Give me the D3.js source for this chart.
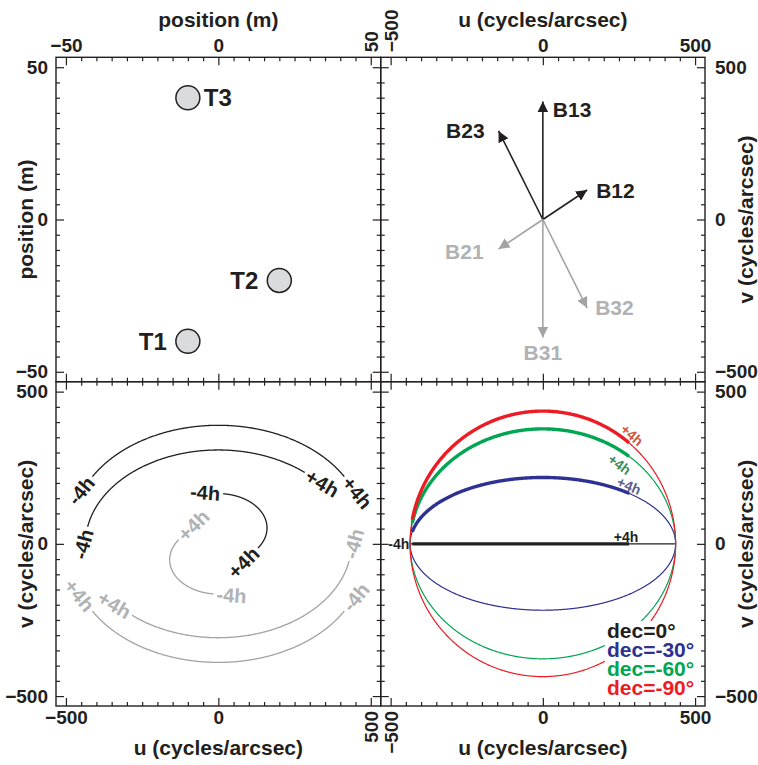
<!DOCTYPE html>
<html>
<head>
<meta charset="utf-8">
<script src="https://cdn.jsdelivr.net/npm/d3@7"></script>
<style>
  body { margin: 0; background: #fff; }
  svg text { font-family: "Liberation Sans", Arial, Helvetica, sans-serif; font-weight: bold; }
</style>
</head>
<body>
<svg id="chart" width="758" height="765"></svg>
<script>
// ---- Data -------------------------------------------------------------
// Antenna positions on the ground (m)
const antennaNames = ["T1", "T2", "T3"];
const antennaX = [-10, 20, -10];
const antennaY = [-40, -20, 40];

// Baselines as antenna pairs (from -> to)
const baselineNames = ["B12", "B13", "B23", "B21", "B31", "B32"];
const baselineFrom = [0, 0, 1, 1, 2, 2];
const baselineTo = [1, 2, 2, 0, 0, 1];

// Observing wavelength (m) and arcsec per radian
const wavelength = 1e-6;
const arcsecPerRad = 206264.8;

// Equatorial baseline components (m) for the uv tracks
const trackNames = ["B12", "B23", "B13"];
const trackX = [13.6, 84.8, 98.4];
const trackY = [30.0, -30.0, 0.0];
const trackZ = [15.2, 0.0, 15.2];
const trackDec = -45;          // source declination (deg)
const hourStart = -4, hourEnd = 4;

// Declination sweep for baseline B23
const decValues = [0, -30, -60, -90];
const decLabels = ["dec=0°", "dec=-30°", "dec=-60°", "dec=-90°"];

// Axis ticks
const posMajor = [-50, 0, 50];
const posMinor = d3.range(-50, 51, 5);
const uvMajor = [-500, 0, 500];
const uvMinor = d3.range(-500, 501, 50);

// ---- Styles -----------------------------------------------------------
const ink = "#231f20";
const grayLine = "#a3a3a3";
const grayText = "#b0b2b4";
const decColors = ["#231f20", "#2e3192", "#00a651", "#ed1c24"];
const decLabelColors = ["#231f20", "#5b5e8e", "#3d8c5c", "#d0533b"];

// ---- Layout -----------------------------------------------------------
const svg = d3.select("#chart");
const xL = 56, xM = 380.7, xR = 705;
const yT = 57.3, yM = 381.7, yB = 706;
const posLim = 53.26, uvLim = 532.6;

function makePanel(x0, x1, y0, y1, lim) {
  const g = svg.append("g");
  const x = d3.scaleLinear().domain([-lim, lim]).range([x0, x1]);
  const y = d3.scaleLinear().domain([-lim, lim]).range([y1, y0]);
  return { g, x, y, x0, x1, y0, y1 };
}

function drawFrame(p, major, minor) {
  const minorOnly = minor.filter(v => !major.includes(v));
  const sides = [
    [d3.axisTop(p.x), `translate(0,${p.y0})`],
    [d3.axisBottom(p.x), `translate(0,${p.y1})`],
    [d3.axisLeft(p.y), `translate(${p.x0},0)`],
    [d3.axisRight(p.y), `translate(${p.x1},0)`]
  ];
  sides.forEach(([axis, tr]) => {
    [[minorOnly, -4], [major, -8]].forEach(([vals, len]) => {
      const a = p.g.append("g").attr("transform", tr)
        .call(axis.tickValues(vals).tickSize(len).tickSizeOuter(0).tickFormat(""));
      a.select(".domain").remove();
      a.selectAll("line").attr("stroke", ink).attr("stroke-width", 1.2);
    });
  });
  p.g.append("rect")
    .attr("x", p.x0).attr("y", p.y0)
    .attr("width", p.x1 - p.x0).attr("height", p.y1 - p.y0)
    .attr("fill", "none").attr("stroke", ink).attr("stroke-width", 1.4);
}

// Tick labels; `rotated` holds the values whose labels are turned upright
function drawLabels(p, side, major, rotated) {
  const gen = { top: d3.axisTop(p.x), bottom: d3.axisBottom(p.x), left: d3.axisLeft(p.y), right: d3.axisRight(p.y) }[side];
  const tr = { top: `translate(0,${p.y0})`, bottom: `translate(0,${p.y1})`, left: `translate(${p.x0},0)`, right: `translate(${p.x1},0)` }[side];
  const pad = { top: 5, bottom: 5, left: 8, right: 10 }[side];
  const a = p.g.append("g").attr("transform", tr)
    .call(gen.tickValues(major).tickSize(0).tickPadding(pad).tickFormat(d3.format("d")));
  a.select(".domain").remove();
  a.selectAll("line").remove();
  a.attr("font-size", null).attr("font-family", null);
  a.selectAll("text").style("font-size", "19px").style("fill", ink);
  a.selectAll(".tick").filter(d => rotated.includes(d)).select("text")
    .attr("x", 0).attr("y", 0).attr("dy", "0.35em")
    .attr("text-anchor", side === "top" ? "start" : "end")
    .attr("transform", side === "top" ? `translate(0,${-pad}) rotate(-90)` : `translate(0,${pad}) rotate(-90)`);
}

function axisTitle(text, x, y, rotate) {
  svg.append("text")
    .attr("transform", `translate(${x},${y})` + (rotate ? " rotate(-90)" : ""))
    .attr("text-anchor", "middle")
    .style("font-size", "21px").style("fill", ink)
    .text(text);
}

const k = 1 / (wavelength * arcsecPerRad);   // m -> cycles/arcsec

// Earth-rotation uv coordinates for an equatorial baseline
function uvAt(X, Y, Z, hourAngle, dec) {
  const h = hourAngle * 15 * Math.PI / 180, d = dec * Math.PI / 180;
  return [
    k * (X * Math.sin(h) + Y * Math.cos(h)),
    k * (-X * Math.sin(d) * Math.cos(h) + Y * Math.sin(d) * Math.sin(h) + Z * Math.cos(d))
  ];
}
function track(X, Y, Z, dec, h0, h1, sign = 1) {
  return d3.range(h0, h1 + 1e-9, 0.02).map(h => uvAt(X, Y, Z, h, dec).map(c => sign * c));
}

// ---- Panel A: antenna layout -----------------------------------------
const pA = makePanel(xL, xM, yT, yM, posLim);
drawFrame(pA, posMajor, posMinor);
drawLabels(pA, "top", posMajor, [50]);
drawLabels(pA, "left", posMajor, []);
pA.g.selectAll("circle.ant").data(antennaNames).join("circle")
  .attr("cx", (d, i) => pA.x(antennaX[i]))
  .attr("cy", (d, i) => pA.y(antennaY[i]))
  .attr("r", 12)
  .attr("fill", "#d9dbdc").attr("stroke", ink).attr("stroke-width", 1.5);
const antLabelDx = [-21, -21, 16];
pA.g.selectAll("text.ant").data(antennaNames).join("text")
  .attr("x", (d, i) => pA.x(antennaX[i]) + antLabelDx[i])
  .attr("y", (d, i) => pA.y(antennaY[i]))
  .attr("dy", "0.36em")
  .attr("text-anchor", (d, i) => antLabelDx[i] < 0 ? "end" : "start")
  .style("font-size", "24px").style("fill", ink)
  .text(d => d);

// ---- Panel B: baseline vectors ---------------------------------------
const pB = makePanel(xM, xR, yT, yM, uvLim);
drawFrame(pB, uvMajor, uvMinor);
drawLabels(pB, "top", uvMajor, [-500]);
drawLabels(pB, "right", uvMajor, []);
const defs = svg.append("defs");
[["head-dark", ink], ["head-gray", grayLine]].forEach(([id, c]) => {
  defs.append("marker").attr("id", id)
    .attr("viewBox", "0 -5 10 10").attr("refX", 10).attr("refY", 0)
    .attr("markerUnits", "userSpaceOnUse")
    .attr("markerWidth", 11).attr("markerHeight", 11)
    .attr("orient", "auto")
    .append("path").attr("d", "M0,-5L10,0L0,5Z").attr("fill", c);
});
const baseU = baselineNames.map((d, i) => k * (antennaX[baselineTo[i]] - antennaX[baselineFrom[i]]));
const baseV = baselineNames.map((d, i) => k * (antennaY[baselineTo[i]] - antennaY[baselineFrom[i]]));
const isDark = baselineNames.map((d, i) => i < 3);
pB.g.selectAll("line.base").data(baselineNames).join("line")
  .attr("x1", pB.x(0)).attr("y1", pB.y(0))
  .attr("x2", (d, i) => pB.x(baseU[i])).attr("y2", (d, i) => pB.y(baseV[i]))
  .attr("stroke", (d, i) => isDark[i] ? ink : grayLine)
  .attr("stroke-width", 1.6)
  .attr("marker-end", (d, i) => isDark[i] ? "url(#head-dark)" : "url(#head-gray)");
// label offsets from each arrow tip: [dx, dy, anchor]
const baseLabelPos = {
  B12: [9, 0, "start"], B13: [10, 8, "start"], B23: [-14, 0, "end"],
  B21: [-15, 2, "end"], B31: [0, 15, "middle"], B32: [8, -1, "start"]
};
pB.g.selectAll("text.base").data(baselineNames).join("text")
  .attr("x", (d, i) => pB.x(baseU[i]) + baseLabelPos[d][0])
  .attr("y", (d, i) => pB.y(baseV[i]) + baseLabelPos[d][1])
  .attr("dy", "0.36em")
  .attr("text-anchor", d => baseLabelPos[d][2])
  .style("fill", (d, i) => isDark[i] ? ink : grayText)
  .style("font-size", "21px")
  .text(d => d);

// ---- Panel C: uv tracks of the three baselines ----------------------
const pC = makePanel(xL, xM, yM, yB, uvLim);
drawFrame(pC, uvMajor, uvMinor);
drawLabels(pC, "bottom", uvMajor, [500]);
drawLabels(pC, "left", uvMajor, []);
const lineC = d3.line().x(d => pC.x(d[0])).y(d => pC.y(d[1]));

function endLabel(g, pts, atEnd, text, color, size, sx, sy) {
  const n = pts.length;
  const a = atEnd ? pts[n - 1] : pts[0];
  const b = atEnd ? pts[n - 2] : pts[1];
  const ax = sx(a[0]), ay = sy(a[1]), bx = sx(b[0]), by = sy(b[1]);
  const len = Math.hypot(ax - bx, ay - by);
  const ux = (ax - bx) / len, uy = (ay - by) / len;
  let ang = Math.atan2(uy, ux) * 180 / Math.PI;
  if (ang > 90) ang -= 180;
  if (ang < -90) ang += 180;
  const t = g.append("text").attr("text-anchor", "middle").attr("dy", "0.36em")
    .style("fill", color).style("font-size", size).text(text);
  const half = t.node().getComputedTextLength() / 2 + 3;
  t.attr("transform", `translate(${ax + ux * half},${ay + uy * half}) rotate(${ang})`);
}

[1, -1].forEach(sign => {
  trackNames.forEach((name, i) => {
    const pts = track(trackX[i], trackY[i], trackZ[i], trackDec, hourStart, hourEnd, sign);
    const col = sign > 0 ? ink : grayLine;
    pC.g.append("path").attr("d", lineC(pts))
      .attr("fill", "none").attr("stroke", col).attr("stroke-width", 1.3);
    const tcol = sign > 0 ? ink : grayText;
    endLabel(pC.g, pts, false, "-4h", tcol, "20px", pC.x, pC.y);
    endLabel(pC.g, pts, true, "+4h", tcol, "20px", pC.x, pC.y);
  });
});

// ---- Panel D: B23 tracks for several declinations -------------------
const pD = makePanel(xM, xR, yM, yB, uvLim);
const lineD = d3.line().x(d => pD.x(d[0])).y(d => pD.y(d[1]));
const b23 = trackNames.indexOf("B23");
decValues.forEach((dec, j) => {
  const full = track(trackX[b23], trackY[b23], 0, dec, -12, 12);
  pD.g.append("path").attr("d", lineD(full))
    .attr("fill", "none").attr("stroke", decColors[j]).attr("stroke-width", 1.2);
});
decValues.forEach((dec, j) => {
  const obs = track(trackX[b23], trackY[b23], 0, dec, hourStart, hourEnd);
  pD.g.append("path").attr("d", lineD(obs))
    .attr("fill", "none").attr("stroke", decColors[j]).attr("stroke-width", 3.4)
    .attr("stroke-linecap", "butt");
  // "+4h" along the curve near the track end; normal offset in px
  const nOff = [-7, -7, 12, -8][j];
  const n = obs.length, a = obs[n - 1], b = obs[n - 2];
  const ax = pD.x(a[0]), ay = pD.y(a[1]);
  const dx = ax - pD.x(b[0]), dy = ay - pD.y(b[1]);
  const len = Math.hypot(dx, dy), ux = dx / len, uy = dy / len;
  const ang = Math.atan2(uy, ux) * 180 / Math.PI;
  const cx = ax - ux * 3 - uy * nOff, cy = ay - uy * 3 + ux * nOff;
  pD.g.append("text").attr("text-anchor", "middle").attr("dy", "0.36em")
    .attr("transform", `translate(${cx},${cy}) rotate(${ang})`)
    .style("fill", decLabelColors[j]).style("font-size", "14px").text("+4h");
  if (j === 0) {
    pD.g.append("text").attr("text-anchor", "end").attr("dy", "0.36em")
      .attr("x", pD.x(obs[0][0]) - 3).attr("y", pD.y(obs[0][1]))
      .style("fill", decLabelColors[j]).style("font-size", "14px").text("-4h");
  }
});
// legend
const leg = pD.g.append("g");
const legBg = leg.append("rect").attr("fill", "#fff");
decLabels.forEach((t, j) => {
  leg.append("text").attr("x", 607).attr("y", 638 + j * 19)
    .style("fill", decColors[j]).style("font-size", "21px").text(t);
});
const bb = leg.node().getBBox();
legBg.attr("x", bb.x - 2).attr("y", bb.y + 2).attr("width", bb.width + 4).attr("height", bb.height);
drawFrame(pD, uvMajor, uvMinor);
drawLabels(pD, "bottom", uvMajor, [-500]);
drawLabels(pD, "right", uvMajor, []);

// ---- Axis titles -----------------------------------------------------
axisTitle("position (m)", pA.x(0), 27, false);
axisTitle("u (cycles/arcsec)", pB.x(0), 27, false);
axisTitle("u (cycles/arcsec)", pC.x(0), 755, false);
axisTitle("u (cycles/arcsec)", pD.x(0), 755, false);
axisTitle("position (m)", 33, pA.y(0), true);
axisTitle("v (cycles/arcsec)", 33, pC.y(0), true);
axisTitle("v (cycles/arcsec)", 753, pB.y(0), true);
axisTitle("v (cycles/arcsec)", 753, pD.y(0), true);
</script>
</body>
</html>
